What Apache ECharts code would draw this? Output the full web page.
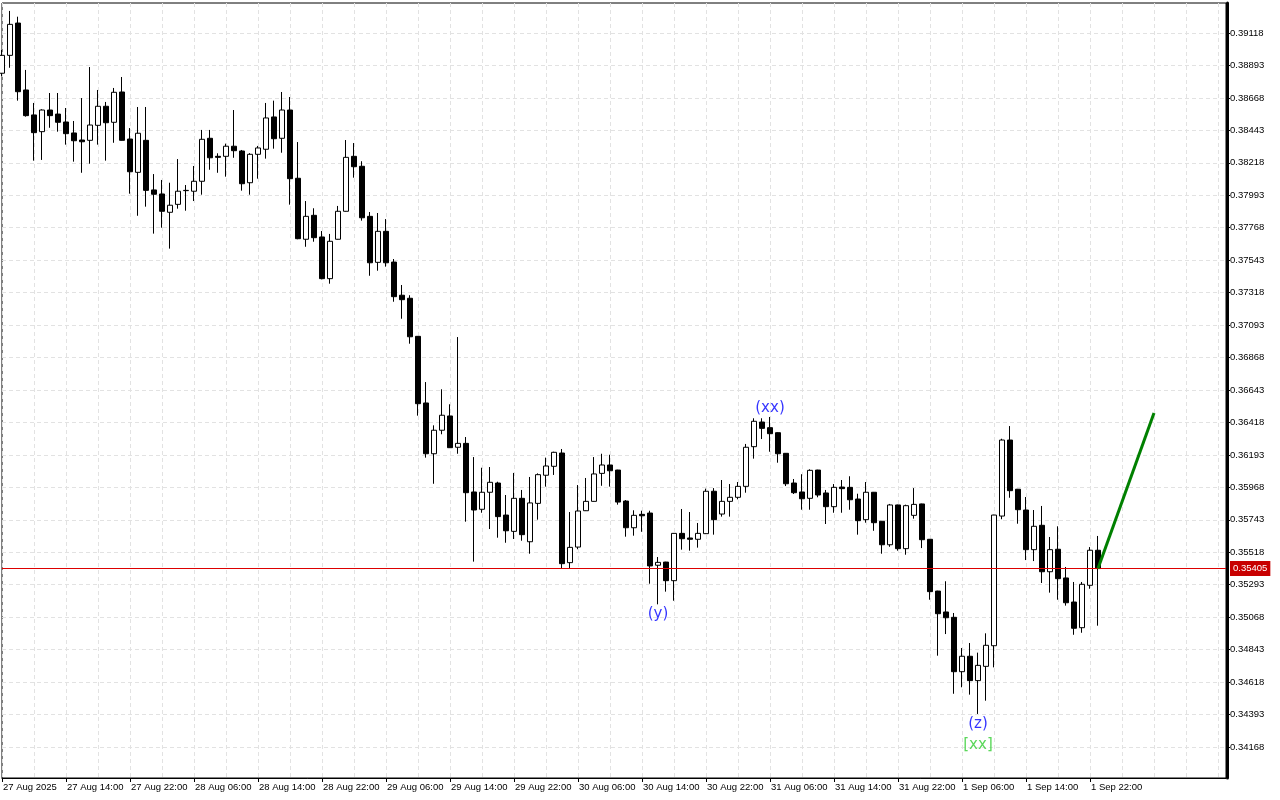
<!DOCTYPE html>
<html><head><meta charset="utf-8">
<script src="https://cdn.jsdelivr.net/npm/echarts@6/dist/echarts.min.js"></script>
<style>html,body{margin:0;padding:0;background:#fff}#c{width:1280px;height:800px}</style>
</head><body><div id="c"></div>
<script>
// ---- data (hourly bars, first bar = 27 Aug 2025 06:00) ----
const opens = [
0.38839,0.38963,0.39187,0.38723,0.38550,0.38434,0.38584,0.38556,0.38501,0.38425,
0.38376,0.38374,0.38478,0.38610,0.38499,0.38709,0.38383,0.38152,0.38374,0.38030,
0.38002,0.37875,0.37930,0.38025,0.38021,0.38090,0.38388,0.38263,0.38263,0.38333,
0.38300,0.38080,0.38277,0.38312,0.38536,0.38388,0.38584,0.38111,0.37688,0.37854,
0.37704,0.37415,0.37688,0.37882,0.38263,0.38194,0.37847,0.37528,0.37743,0.37530,
0.37300,0.37279,0.37015,0.36553,0.36201,0.36364,0.36463,0.36246,0.36273,0.35936,
0.35816,0.35934,0.35998,0.35776,0.35663,0.35892,0.35591,0.35857,0.36052,0.36114,
0.36206,0.35446,0.35554,0.35806,0.35871,0.36065,0.36123,0.36088,0.35873,0.35688,
0.35781,0.35790,0.35428,0.35450,0.35321,0.35649,0.35617,0.35608,0.35647,0.35941,
0.35783,0.35871,0.35899,0.35975,0.36250,0.36421,0.36382,0.36347,0.36204,0.35998,
0.35936,0.35892,0.36088,0.35929,0.35834,0.35970,0.35968,0.35887,0.35744,0.35934,
0.35733,0.35570,0.35846,0.35543,0.35774,0.35853,0.35608,0.35249,0.35104,0.35067,
0.34690,0.34797,0.34628,0.34727,0.34870,0.35769,0.36296,0.35955,0.35811,0.35536,
0.35705,0.35383,0.35539,0.35340,0.35173,0.34995,0.35289,0.35532];
const closes = [
0.38963,0.39178,0.38711,0.38545,0.38427,0.38584,0.38545,0.38499,0.38420,0.38371,
0.38364,0.38480,0.38610,0.38496,0.38707,0.38374,0.38156,0.38423,0.38027,0.38000,
0.37882,0.37924,0.38021,0.38027,0.38090,0.38381,0.38253,0.38256,0.38333,0.38302,
0.38073,0.38277,0.38321,0.38529,0.38385,0.38584,0.38108,0.37692,0.37847,0.37699,
0.37415,0.37674,0.37882,0.38256,0.38191,0.37837,0.37525,0.37743,0.37525,0.37290,
0.37269,0.37012,0.36548,0.36201,0.36364,0.36468,0.36243,0.36273,0.35931,0.35811,
0.35934,0.36003,0.35765,0.35667,0.35892,0.35640,0.35860,0.36056,0.36116,0.36211,
0.35439,0.35552,0.35804,0.35871,0.36061,0.36123,0.36083,0.35866,0.35688,0.35774,
0.35771,0.35423,0.35448,0.35321,0.35649,0.35612,0.35608,0.35649,0.35941,0.35744,
0.35871,0.35899,0.35975,0.36246,0.36426,0.36377,0.36340,0.36201,0.35993,0.35931,
0.35889,0.36086,0.35915,0.35834,0.35968,0.35959,0.35882,0.35737,0.35934,0.35723,
0.35570,0.35846,0.35543,0.35841,0.35850,0.35605,0.35245,0.35092,0.35064,0.34690,
0.34797,0.34628,0.34734,0.34873,0.35776,0.36296,0.35945,0.35813,0.35536,0.35698,
0.35383,0.35536,0.35335,0.35168,0.34991,0.35296,0.35532,0.35405];
const lows = [
0.38820,0.38877,0.38649,0.38538,0.38233,0.38238,0.38461,0.38434,0.38344,0.38226,
0.38149,0.38212,0.38344,0.38233,0.38357,0.38372,0.38004,0.37851,0.37914,0.37727,
0.37768,0.37623,0.37900,0.37886,0.37953,0.37997,0.38170,0.38149,0.38122,0.38253,
0.38025,0.37997,0.38108,0.38247,0.38316,0.38288,0.37928,0.37688,0.37636,0.37671,
0.37410,0.37380,0.37686,0.37880,0.38115,0.37817,0.37435,0.37470,0.37498,0.37255,
0.37137,0.36964,0.36465,0.36174,0.35993,0.36336,0.36241,0.36201,0.35730,0.35453,
0.35792,0.35679,0.35619,0.35584,0.35610,0.35598,0.35508,0.35744,0.35973,0.36054,
0.35407,0.35407,0.35539,0.35804,0.35869,0.35979,0.35973,0.35848,0.35626,0.35633,
0.35660,0.35300,0.35157,0.35245,0.35182,0.35536,0.35529,0.35550,0.35645,0.35640,
0.35765,0.35765,0.35885,0.35931,0.36167,0.36303,0.36215,0.36139,0.35977,0.35922,
0.35813,0.35813,0.35899,0.35714,0.35792,0.35792,0.35813,0.35640,0.35723,0.35667,
0.35508,0.35556,0.35529,0.35501,0.35751,0.35547,0.35189,0.34801,0.34951,0.34537,
0.34582,0.34531,0.34397,0.34489,0.34720,0.35747,0.35896,0.35716,0.35464,0.35457,
0.35305,0.35238,0.35189,0.35148,0.34946,0.34960,0.35265,0.35009];
const highs = [
0.39000,0.39271,0.39231,0.38862,0.38633,0.38589,0.38702,0.38702,0.38598,0.38508,
0.38667,0.38882,0.38723,0.38640,0.38737,0.38813,0.38459,0.38605,0.38605,0.38140,
0.38099,0.38080,0.38244,0.38064,0.38196,0.38446,0.38446,0.38284,0.38351,0.38584,
0.38307,0.38285,0.38335,0.38633,0.38649,0.38709,0.38674,0.38362,0.37953,0.37903,
0.37745,0.37725,0.37919,0.38376,0.38355,0.38229,0.37877,0.37870,0.37828,0.37551,
0.37371,0.37300,0.37017,0.36698,0.36398,0.36648,0.36544,0.37010,0.36317,0.36178,
0.36104,0.36109,0.36007,0.35915,0.36068,0.35950,0.36040,0.36065,0.36174,0.36215,
0.36234,0.35797,0.35984,0.36033,0.36178,0.36201,0.36194,0.36090,0.35880,0.35809,
0.35806,0.35806,0.35485,0.35452,0.35651,0.35818,0.35797,0.35721,0.35959,0.35963,
0.36019,0.35991,0.36005,0.36269,0.36447,0.36447,0.36456,0.36350,0.36206,0.36026,
0.36059,0.36093,0.36090,0.35950,0.35991,0.36019,0.36045,0.35924,0.36005,0.35936,
0.35735,0.35853,0.35848,0.35848,0.35963,0.35855,0.35610,0.35251,0.35317,0.35097,
0.34854,0.34889,0.34822,0.34956,0.35778,0.36305,0.36393,0.35957,0.35901,0.35811,
0.35839,0.35624,0.35698,0.35416,0.35312,0.35312,0.35554,0.35631];

const timeLabels = ['27 Aug 2025','27 Aug 14:00','27 Aug 22:00','28 Aug 06:00','28 Aug 14:00',
  '28 Aug 22:00','29 Aug 06:00','29 Aug 14:00','29 Aug 22:00','30 Aug 06:00','30 Aug 14:00',
  '30 Aug 22:00','31 Aug 06:00','31 Aug 14:00','31 Aug 22:00','1 Sep 06:00','1 Sep 14:00','1 Sep 22:00'];
const priceTicks = [0.34168,0.34393,0.34618,0.34843,0.35068,0.35293,0.35518,0.35743,0.35968,
  0.36193,0.36418,0.36643,0.36868,0.37093,0.37318,0.37543,0.37768,0.37993,0.38218,0.38443,
  0.38668,0.38893,0.39118];
const lastPrice = 0.35405;
const projectionBars = [137, 144];
const projectionPrices = [0.35405, 0.36484];
const waveTexts = ['(xx)', '(y)', '(z)', '[xx]'];
const waveBars = [96, 82, 122, 122];
const wavePrices = [0.36516, 0.35090, 0.34327, 0.34182];
const waveColors = ['#0000ff', '#0000ff', '#0000ff', '#32cd32'];

const LABEL_STEP = 8;
const EMPTY_BARS = 16;
const nBars = opens.length;
const categories = [];
for (let i = 0; i < nBars + EMPTY_BARS; i++) categories.push('b' + i);
const candles = opens.map((o, i) => [o, closes[i], lows[i], highs[i]]);
const FONT = 'Liberation Sans';
const PRICE_LINE = '#dd0000';

const chart = echarts.init(document.getElementById('c'), null, {renderer: 'canvas'});
chart.setOption({
  animation: false,
  backgroundColor: '#fff',
  grid: {left: 2, right: 54, top: 3, bottom: 22, show: true, borderColor: '#000', borderWidth: 1, backgroundColor: 'transparent'},
  xAxis: {
    type: 'category', data: categories, boundaryGap: false,
    axisLine: {show: true, lineStyle: {color: '#000', width: 1}},
    axisTick: {show: true, length: 4, lineStyle: {color: '#000'},
      interval: (i) => i % LABEL_STEP === 0 && i / LABEL_STEP < timeLabels.length},
    axisLabel: {show: true, color: '#000', fontFamily: FONT, fontSize: 9.5, align: 'left', margin: 4,
      padding: [0, 0, 0, 1],
      interval: (i) => i % LABEL_STEP === 0 && i / LABEL_STEP < timeLabels.length,
      formatter: (v, i) => timeLabels[i / LABEL_STEP] || ''},
    splitLine: {show: true, interval: (i) => i % 4 === 0, lineStyle: {color: '#e2e2e2', type: [4, 3], width: 1}}
  },
  yAxis: {
    type: 'value', position: 'right', min: 0.33953, max: 0.39326, offset: 1,
    axisLine: {show: true, onZero: false, lineStyle: {color: '#000', width: 3}},
    axisTick: {show: true, length: 3, lineStyle: {color: '#000'}, customValues: priceTicks},
    axisLabel: {show: true, color: '#000', fontFamily: FONT, fontSize: 9.5, margin: 3,
      customValues: priceTicks, formatter: (v) => v.toFixed(5)},
    splitLine: {show: true, lineStyle: {color: '#e2e2e2', type: [4, 3], width: 1}}
  },
  series: [
    {
      type: 'candlestick', data: candles, barWidth: 5, z: 2,
      itemStyle: {color: '#fff', color0: '#000', borderColor: '#000', borderColor0: '#000', borderWidth: 1}
    },
    {
      type: 'line', data: projectionBars.map((b, i) => [b, projectionPrices[i]]),
      symbol: 'none', silent: true, color: '#008000', lineStyle: {color: '#008000', width: 3}, z: 5,
      markLine: {
        silent: true, symbol: ['none', 'none'], animation: false, precision: 5,
        data: [{yAxis: lastPrice, lineStyle: {color: PRICE_LINE, width: 1, type: 'solid'}}],
        lineStyle: {color: PRICE_LINE, width: 1, type: 'solid', opacity: 1},
        emphasis: {disabled: true},
        label: {show: true, position: 'end', distance: 4, formatter: lastPrice.toFixed(5),
          color: '#fff', backgroundColor: '#c80000', padding: [3, 3, 2, 3], fontFamily: FONT, fontSize: 9.5}
      }
    },
    {
      type: 'scatter', symbolSize: 0, silent: true, z: 6,
      data: waveTexts.map((t, i) => ({value: [waveBars[i], wavePrices[i]],
        label: {show: true, position: 'inside', formatter: t, color: waveColors[i],
          fontFamily: 'DejaVu Sans', fontSize: 15}}))
    }
  ]
});
</script></body></html>
